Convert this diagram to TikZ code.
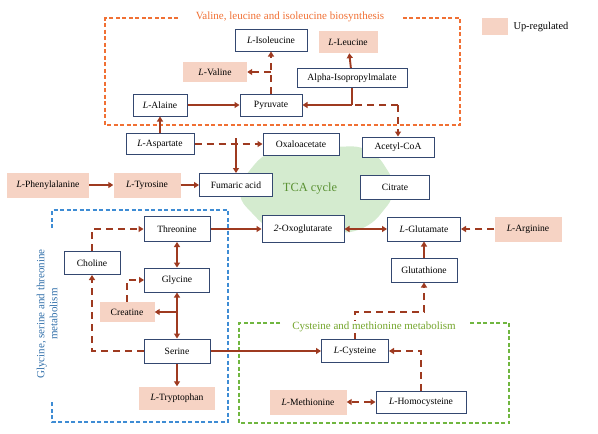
\documentclass[tikz,border=0pt]{standalone}
\usepackage{fontspec}
\setmainfont{Liberation Serif}
\usepackage{xcolor}
\usepackage{tikz}
\usetikzlibrary{arrows.meta}

\definecolor{pathred}{RGB}{158,58,32}
\definecolor{boxedge}{RGB}{52,72,112}
\definecolor{upfill}{RGB}{246,211,196}
\definecolor{valorange}{RGB}{240,112,52}
\definecolor{glyblue}{RGB}{62,140,212}
\definecolor{cysgreen}{RGB}{112,182,64}
\definecolor{tcagreen}{RGB}{170,215,160}

\begin{document}
\begin{tikzpicture}[x=1pt,y=-1pt,
  font=\fontsize{9.6}{11}\selectfont,
  box/.style={draw=boxedge,line width=1pt,fill=white,minimum height=22pt,inner sep=2pt},
  upbox/.style={fill=upfill,minimum height=22pt,inner sep=2pt},
  arr/.style={draw=pathred,line width=1.9pt,-{Triangle[length=5pt,width=6pt]}},
  arrboth/.style={draw=pathred,line width=1.9pt,{Triangle[length=5pt,width=6pt]}-{Triangle[length=5pt,width=6pt]}},
  plain/.style={draw=pathred,line width=1.9pt},
  dsh/.style={draw=pathred,line width=1.9pt,dash pattern=on 7pt off 5pt},
  dsharr/.style={dsh,-{Triangle[length=5pt,width=6pt]}},
  dshboth/.style={dsh,{Triangle[length=5pt,width=6pt]}-{Triangle[length=5pt,width=6pt]}},
  region/.style={line width=1.1pt,dash pattern=on 4pt off 2.5pt},
  title/.style={font=\fontsize{11}{13}\selectfont}]
  \useasboundingbox (0,0) rectangle (598,434);

  % TCA cycle background
  \fill[tcagreen,opacity=0.5,rounded corners=20pt] (232,192) -- (268,148) -- (372,146) -- (400,190) -- (366,232) -- (272,234) -- cycle;

  % metabolism regions
  \draw[region,valorange] (178,18) -| (105,125) -| (460,18) -- (403,18);
  \draw[region,glyblue] (52,228) -- (52,210) -| (228,422) -| (52,402);
  \draw[region,cysgreen] (280,323) -| (239,423) -| (509,323) -- (468,323);

  % nodes
  \node[box,minimum width=72pt] (ile) at (271,40) {\textit{L}-Isoleucine};
  \node[upbox,minimum width=59pt] (leu) at (348,42) {\textit{L}-Leucine};
  \node[upbox,minimum width=64pt,minimum height=20pt] (val) at (215,72) {\textit{L}-Valine};
  \node[box,minimum width=110pt,minimum height=19pt] (aipm) at (352,78) {Alpha-Isopropylmalate};
  \node[box,minimum width=54pt] (ala) at (160,105) {\textit{L}-Alaine};
  \node[box,minimum width=62pt] (pyr) at (271,105) {Pyruvate};
  \node[box,minimum width=68pt,minimum height=21pt] (asp) at (160,144) {\textit{L}-Aspartate};
  \node[box,minimum width=76pt] (oaa) at (301,144) {Oxaloacetate};
  \node[box,minimum width=72pt,minimum height=20pt] (acoa) at (398,147) {Acetyl-CoA};
  \node[upbox,minimum width=82pt,minimum height=25pt] (phe) at (48,185) {\textit{L}-Phenylalanine};
  \node[upbox,minimum width=67pt,minimum height=25pt] (tyr) at (147,185) {\textit{L}-Tyrosine};
  \node[box,minimum width=73pt,minimum height=23pt] (fum) at (236,185) {Fumaric acid};
  \node[title,text=cysgreen!80!black,font=\fontsize{12.4}{14}\selectfont] (tca) at (310,189) {TCA cycle};
  \node[box,minimum width=69pt,minimum height=24pt] (cit) at (395,187) {Citrate};
  \node[box,minimum width=66pt,minimum height=25pt] (thr) at (177,229) {Threonine};
  \node[box,minimum width=82pt,minimum height=27pt] (oxg) at (303,229) {\textit{2}-Oxoglutarate};
  \node[box,minimum width=73pt,minimum height=24pt] (glu) at (424,229) {\textit{L}-Glutamate};
  \node[upbox,minimum width=67pt,minimum height=25pt] (arg) at (528,229) {\textit{L}-Arginine};
  \node[box,minimum width=66pt,minimum height=24pt] (gsh) at (424,270) {Glutathione};
  \node[box,minimum width=56pt,minimum height=23pt] (cho) at (92,263) {Choline};
  \node[box,minimum width=65pt,minimum height=24pt] (gly) at (177,280) {Glycine};
  \node[upbox,minimum width=55pt,minimum height=20pt] (cre) at (127,312) {Creatine};
  \node[box,minimum width=66pt,minimum height=24pt] (ser) at (177,351) {Serine};
  \node[upbox,minimum width=76pt,minimum height=23pt] (trp) at (177,398) {\textit{L}-Tryptophan};
  \node[box,minimum width=67pt,minimum height=23pt] (cys) at (355,351) {\textit{L}-Cysteine};
  \node[upbox,minimum width=77pt,minimum height=25pt] (met) at (308,402) {\textit{L}-Methionine};
  \node[box,minimum width=90pt,minimum height=22pt] (hcy) at (421,402) {\textit{L}-Homocysteine};

  % legend
  \node[upbox,minimum width=26pt,minimum height=17pt] (leg) at (495,26) {};
  \node[anchor=west,font=\fontsize{10.4}{12}\selectfont] (legtxt) at (510,27) {Up-regulated};

  % connectors
  \coordinate (vbr) at (271,72);
  \coordinate (aj) at (352,105);
  \coordinate (cj) at (398,105);
  \coordinate (fx) at (236,138);
  \coordinate (gk) at (390,312);
  \draw[arr] (ala) -- (pyr);
  \draw[arr] (asp) -- (ala);
  \draw[dsharr] (pyr) -- (ile);
  \draw[dsharr] (vbr) -- (val);
  \draw[plain] (aipm.south) -- (aj);
  \draw[arr] (aj) -- (pyr);
  \draw[dsh] (cj) -- (aj);
  \draw[dsharr] (cj) -- (acoa);
  \draw[arr] (aipm) -- (leu);
  \draw[dsharr] (asp) -- (oaa);
  \draw[arr] (fx) -- (fum);
  \draw[arr] (phe) -- (tyr);
  \draw[arr] (tyr) -- (fum);
  \draw[arr] (thr) -- (oxg);
  \draw[arrboth] (oxg) -- (glu);
  \draw[dsharr] (arg) -- (glu);
  \draw[arr] (gsh) -- (glu);
  \draw[dsharr] (cys.north) |- (gk) -| (gsh.south);
  \draw[arrboth] (thr) -- (gly);
  \draw[arrboth] (gly) -- (ser);
  \draw[arr] (gly.south |- cre.east) -- (cre);
  \draw[dsharr] (cre.north) |- (gly.west);
  \draw[dsharr] (ser.west) -| (cho.south);
  \draw[dsharr] (cho.north) |- (thr.west);
  \draw[arr] (ser) -- (trp);
  \draw[arr] (ser) -- (cys);
  \draw[dsharr] (hcy.north) |- (cys.east);
  \draw[dshboth] (hcy) -- (met);

  % region titles
  \node[title,text=valorange] (valtitle) at (290,17) {Valine, leucine and isoleucine biosynthesis};
  \node[title,text=glyblue!80!black,rotate=90,align=center] (glytitle) at (47,314) {Glycine, serine and threonine\\metabolism};
  \node[title,fill=white,inner sep=1pt,text=cysgreen!70!olive] (cystitle) at (374,327) {Cysteine and methionine metabolism};
\end{tikzpicture}
\end{document}
